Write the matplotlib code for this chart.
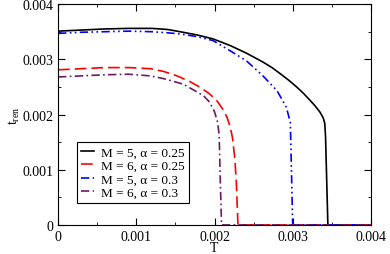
import numpy as np
import matplotlib
matplotlib.use('Agg')
import matplotlib.pyplot as plt
from matplotlib.ticker import MultipleLocator

plt.rcParams['font.family'] = ['Liberation Serif', 'DejaVu Serif']
plt.rcParams['mathtext.fontset'] = 'stix'

# M = 5, alpha = 0.25
T_a = [0.0, 0.0003, 0.0006, 0.0009, 0.0012, 0.0014, 0.00156, 0.00178, 0.00198,
       0.0022, 0.00241, 0.00262, 0.00274, 0.00284, 0.00295, 0.00305, 0.00314,
       0.00322, 0.00329, 0.00335, 0.00339, 0.00341, 0.00342, 0.00345, 0.004]
t_a = [0.00351, 0.00353, 0.00355, 0.00356, 0.00356, 0.00354, 0.00350, 0.00344,
       0.00337, 0.00325, 0.00311, 0.00295, 0.002845, 0.00274, 0.00262, 0.00250,
       0.00238, 0.00226, 0.00215, 0.00204, 0.00194, 0.00184, 0.00160, 0.0, 0.0]

# M = 6, alpha = 0.25
T_b = [0.0, 0.0003, 0.0006, 0.0009, 0.00118, 0.00135, 0.00152, 0.00168, 0.00182,
       0.00194, 0.00203, 0.0021, 0.00216, 0.0022, 0.00223, 0.00226, 0.00228,
       0.0023, 0.004]
t_b = [0.00281, 0.00283, 0.00285, 0.00285, 0.00283, 0.00278, 0.00270, 0.00260,
       0.00249, 0.00237, 0.00225, 0.00211, 0.00195, 0.00178, 0.00158, 0.00120,
       0.00075, 0.0, 0.0]

# M = 5, alpha = 0.3
T_c = [0.0, 0.0003, 0.0006, 0.0009, 0.0012, 0.0014, 0.00156, 0.00178, 0.00198,
       0.0022, 0.00241, 0.00262, 0.0028, 0.00292, 0.00297, 0.003, 0.004]
t_c = [0.00347, 0.00349, 0.00350, 0.00351, 0.00350, 0.00348, 0.00346, 0.00341,
       0.00334, 0.003155, 0.00297, 0.00270, 0.00243, 0.00213, 0.00185, 0.0, 0.0]

# M = 6, alpha = 0.3
T_d = [0.0, 0.0003, 0.0006, 0.0009, 0.00118, 0.00135, 0.0015, 0.0016, 0.00175,
       0.00186, 0.00194, 0.002, 0.00204, 0.00206, 0.00207, 0.00209, 0.004]
t_d = [0.00268, 0.00270, 0.00272, 0.00273, 0.00270, 0.00265, 0.00259, 0.00255,
       0.00243, 0.00234, 0.00222, 0.00205, 0.00186, 0.00162, 0.00101, 0.0, 0.0]

labels = ['M = 5, α = 0.25', 'M = 6, α = 0.25', 'M = 5, α = 0.3', 'M = 6, α = 0.3']
ticks = [0, 0.001, 0.002, 0.003, 0.004]
tick_labels = ['0', '0.001', '0.002', '0.003', '0.004']

fig = plt.figure(figsize=(3.9, 2.55), dpi=100)
ax = fig.add_axes([0.149, 0.114, 0.802, 0.866])

ax.plot(T_a, t_a, color='black', lw=1.2, ls='-', label=labels[0])
ax.plot(T_b, t_b, color='red', lw=1.2, ls=(0, (7, 3)), label=labels[1])
ax.plot(T_c, t_c, color='blue', lw=1.2, ls=(0, (5, 2, 1, 2, 1, 2)), label=labels[2])
ax.plot(T_d, t_d, color='#6e1a63', lw=1.2, ls=(0, (5, 2, 1, 2)), label=labels[3])

ax.set_xlim(0, 0.004)
ax.set_ylim(0, 0.004)
ax.set_xticks(ticks)
ax.set_xticklabels(tick_labels)
ax.set_yticks(ticks)
ax.set_yticklabels(tick_labels)
ax.xaxis.set_minor_locator(MultipleLocator(0.0005))
ax.yaxis.set_minor_locator(MultipleLocator(0.0005))
ax.tick_params(which='both', direction='in', top=True, right=True, labelsize=10)
ax.tick_params(which='major', length=5)
ax.tick_params(which='minor', length=2.5)
ax.set_xlabel('T', fontsize=10, labelpad=-1)
ax.set_ylabel(r'$\mathregular{t_{ren}}$', fontsize=10, labelpad=0)

leg = ax.legend(loc='lower left', bbox_to_anchor=(0.04, 0.07), fontsize=9.5,
                handlelength=1.0, handletextpad=0.5, borderpad=0.3,
                labelspacing=0.1, fancybox=False, framealpha=1)
leg.get_frame().set_edgecolor('black')
leg.get_frame().set_linewidth(0.8)

fig.savefig('out.png', dpi=100)
